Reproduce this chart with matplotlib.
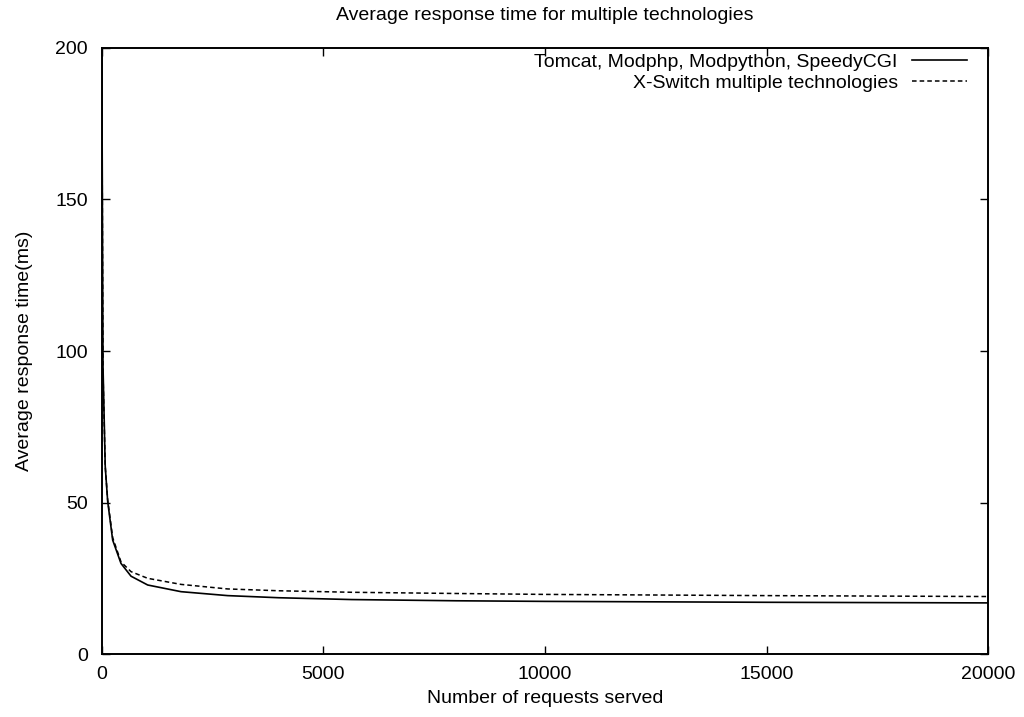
import numpy as np
import matplotlib.pyplot as plt

plt.rcParams['font.family'] = ['Liberation Sans', 'DejaVu Sans']

# requests served (x) and average response time in ms
requests = [1, 30, 80, 135, 248, 436, 662, 1038, 1790, 2842, 4000, 5640,
            8000, 10000, 15000, 20000]
tomcat_etc = [205, 95, 62, 50.5, 37.7, 30, 25.8, 22.9, 20.7, 19.4, 18.7, 18.1,
              17.7, 17.5, 17.2, 17.0]
xswitch = [200, 93, 62, 51, 38.5, 30.5, 27.3, 25.1, 23.1, 21.6, 21.0, 20.5,
           20.1, 19.8, 19.4, 19.1]

fig = plt.figure(figsize=(10.24, 7.17), dpi=100)
ax = fig.add_axes([0.0993, 0.0872, 0.8657, 0.8463])

ax.plot(requests, tomcat_etc, color='black', linewidth=1.2,
        label='Tomcat, Modphp, Modpython, SpeedyCGI')
ax.plot(requests, xswitch, color='black', linewidth=1.1, linestyle=(0, (3, 2)),
        label='X-Switch multiple technologies')

ax.set_xlim(0, 20000)
ax.set_ylim(0, 200)
ax.set_xticks([0, 5000, 10000, 15000, 20000])
ax.set_yticks([0, 50, 100, 150, 200])
ax.tick_params(direction='in', top=True, right=True, length=6, width=1,
               labelsize=14)
ax.tick_params(axis='x', pad=8)
ax.tick_params(axis='y', pad=10)
for s in ax.spines.values():
    s.set_linewidth(1.4)

ax.set_title('Average response time for multiple technologies', fontsize=14, pad=20)
ax.set_xlabel('Number of requests served', fontsize=14, labelpad=5)
ax.set_ylabel('Average response time(ms)', fontsize=14, labelpad=16)

leg = ax.legend(loc='upper right', bbox_to_anchor=(0.976, 0.991), frameon=False,
                markerfirst=False, fontsize=14, handlelength=2.8,
                handletextpad=0.75, labelspacing=0.2, borderpad=0,
                borderaxespad=0, alignment='right')
for t in leg.get_texts():
    t.set_ha('right')

fig.savefig('out.png', dpi=100)
